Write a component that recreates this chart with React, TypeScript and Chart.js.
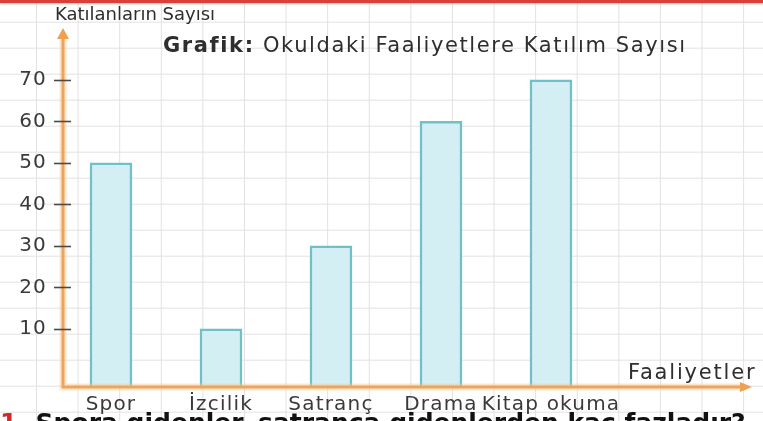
import React, { useEffect, useRef } from "react";
import { Chart, registerables } from "chart.js";

Chart.register(...registerables);

const categories = ["Spor", "İzcilik", "Satranç", "Drama", "Kitap okuma"];
const participants = [50, 10, 30, 60, 70];
const yTickValues = [10, 20, 30, 40, 50, 60, 70];
const yAxisTitle = "Katılanların Sayısı";
const xAxisTitle = "Faaliyetler";
const chartTitleBold = "Grafik:";
const chartTitleRest = " Okuldaki Faaliyetlere Katılım Sayısı";
const questionNumber = "1.";
const questionText = " Spora gidenler, satranca gidenlerden kaç fazladır?";

const Y_MIN = -4;
const Y_MAX = 82.5;
const X_MIN = -0.436;
const X_MAX = 4.482;
const FONT = "'DejaVu Sans', 'Noto Sans', sans-serif";

const spacingPlugin = {
  id: "letterSpacing",
  beforeDraw(chart: any) {
    try {
      chart.ctx.letterSpacing = "1.2px";
    } catch (e) {}
  },
};

const axesPlugin = {
  id: "orangeAxes",
  afterDatasetsDraw(chart: any) {
    const { ctx, chartArea: a, scales } = chart;
    const y = scales.y;
    const x0 = a.left;
    const y0 = a.bottom;
    const xTip = chart.width - 11;
    const yTip = a.top;
    ctx.save();
    ctx.strokeStyle = "rgba(248,200,140,0.45)";
    ctx.lineWidth = 7;
    ctx.beginPath();
    ctx.moveTo(x0, yTip + 10);
    ctx.lineTo(x0, y0);
    ctx.lineTo(xTip - 10, y0);
    ctx.stroke();
    ctx.strokeStyle = "#eda45e";
    ctx.lineWidth = 3;
    ctx.beginPath();
    ctx.moveTo(x0, yTip + 10);
    ctx.lineTo(x0, y0 + 1);
    ctx.moveTo(x0 - 1, y0);
    ctx.lineTo(xTip - 10, y0);
    ctx.stroke();
    ctx.fillStyle = "#f0a050";
    ctx.beginPath();
    ctx.moveTo(x0, yTip);
    ctx.lineTo(x0 - 6, yTip + 11);
    ctx.lineTo(x0 + 6, yTip + 11);
    ctx.closePath();
    ctx.fill();
    ctx.beginPath();
    ctx.moveTo(xTip, y0);
    ctx.lineTo(xTip - 12, y0 - 5);
    ctx.lineTo(xTip - 12, y0 + 5);
    ctx.closePath();
    ctx.fill();
    ctx.strokeStyle = "#4a4a4a";
    ctx.lineWidth = 1.6;
    for (const v of yTickValues) {
      const py = Math.round(y.getPixelForValue(v)) + 0.5;
      ctx.beginPath();
      ctx.moveTo(x0 - 9, py);
      ctx.lineTo(x0 + 8, py);
      ctx.stroke();
    }
    ctx.restore();
  },
};

export default function App() {
  const canvasRef = useRef<HTMLCanvasElement | null>(null);

  useEffect(() => {
    const canvas = canvasRef.current;
    if (!canvas) return;
    const chart = new Chart(canvas, {
      type: "bar",
      data: {
        datasets: [
          {
            data: participants.map((v, i) => ({ x: i, y: v })),
            base: Y_MIN,
            backgroundColor: "#d3eff4",
            borderColor: "#6fc0c8",
            borderWidth: 2.5,
            barThickness: 42,
          } as any,
        ],
      },
      options: {
        responsive: false,
        animation: false,
        devicePixelRatio: 1,
        layout: { padding: { top: 28, right: 159, left: 0, bottom: 0 } },
        plugins: {
          legend: { display: false },
          tooltip: { enabled: false },
          title: { display: false },
        },
        scales: {
          x: {
            type: "linear",
            offset: false,
            min: X_MIN,
            max: X_MAX,
            grid: { display: false, drawTicks: false },
            border: { display: false },
            ticks: {
              color: "#3a3a3a",
              padding: 6,
              font: { family: FONT, size: 20 },
              maxRotation: 0,
              autoSkip: false,
              callback: (v: any) => categories[v] ?? "",
            },
            afterBuildTicks(scale: any) {
              scale.ticks = categories.map((_, i) => ({ value: i }));
            },
            afterFit(scale: any) {
              scale.height = 34;
            },
          },
          y: {
            min: Y_MIN,
            max: Y_MAX,
            grid: { display: false, drawTicks: false },
            border: { display: false },
            ticks: {
              color: "#3a3a3a",
              padding: 16,
              font: { family: FONT, size: 20 },
            },
            afterBuildTicks(scale: any) {
              scale.ticks = yTickValues.map((v) => ({ value: v }));
            },
            afterFit(scale: any) {
              scale.width = 63;
            },
          },
        },
      },
      plugins: [spacingPlugin, axesPlugin],
    });
    return () => chart.destroy();
  }, []);

  const textColor = "#2e2e2e";

  return (
    <div
      style={{
        position: "fixed",
        left: 0,
        top: 0,
        width: 763,
        height: 421,
        overflow: "hidden",
        backgroundColor: "#ffffff",
        backgroundImage:
          "linear-gradient(to right, #e3e1e1 1px, transparent 1px), linear-gradient(to bottom, #e3e1e1 1px, transparent 1px)",
        backgroundSize: "41.6px 26px",
        backgroundPosition: "36px 21.7px",
        fontFamily: FONT,
      }}
    >
      <div
        style={{
          position: "absolute",
          left: 0,
          top: 0,
          width: 763,
          height: 3,
          background: "#d8403a",
          boxShadow: "0 1px 2px rgba(200,60,50,0.4)",
        }}
      />
      <canvas
        ref={canvasRef}
        width={763}
        height={421}
        style={{ position: "absolute", left: 0, top: 0, width: 763, height: 421 }}
      />
      <div
        style={{
          position: "absolute",
          left: 55,
          top: 3,
          fontSize: 18,
          lineHeight: "22px",
          color: textColor,
          whiteSpace: "nowrap",
        }}
      >
        {yAxisTitle}
      </div>
      <div
        style={{
          position: "absolute",
          left: 163,
          top: 33,
          fontSize: 21,
          lineHeight: "24px",
          letterSpacing: "1.6px",
          color: textColor,
          whiteSpace: "nowrap",
        }}
      >
        <b>{chartTitleBold}</b>
        {chartTitleRest}
      </div>
      <div
        style={{
          position: "absolute",
          left: 628,
          top: 360,
          fontSize: 21,
          lineHeight: "24px",
          letterSpacing: "1.8px",
          color: textColor,
          whiteSpace: "nowrap",
        }}
      >
        {xAxisTitle}
      </div>
      <div
        style={{
          position: "absolute",
          left: 0,
          top: 408,
          fontSize: 25,
          lineHeight: "30px",
          fontWeight: 700,
          color: "#111111",
          whiteSpace: "nowrap",
        }}
      >
        <span style={{ color: "#d8262a" }}>{questionNumber}</span>
        {questionText}
      </div>
    </div>
  );
}
